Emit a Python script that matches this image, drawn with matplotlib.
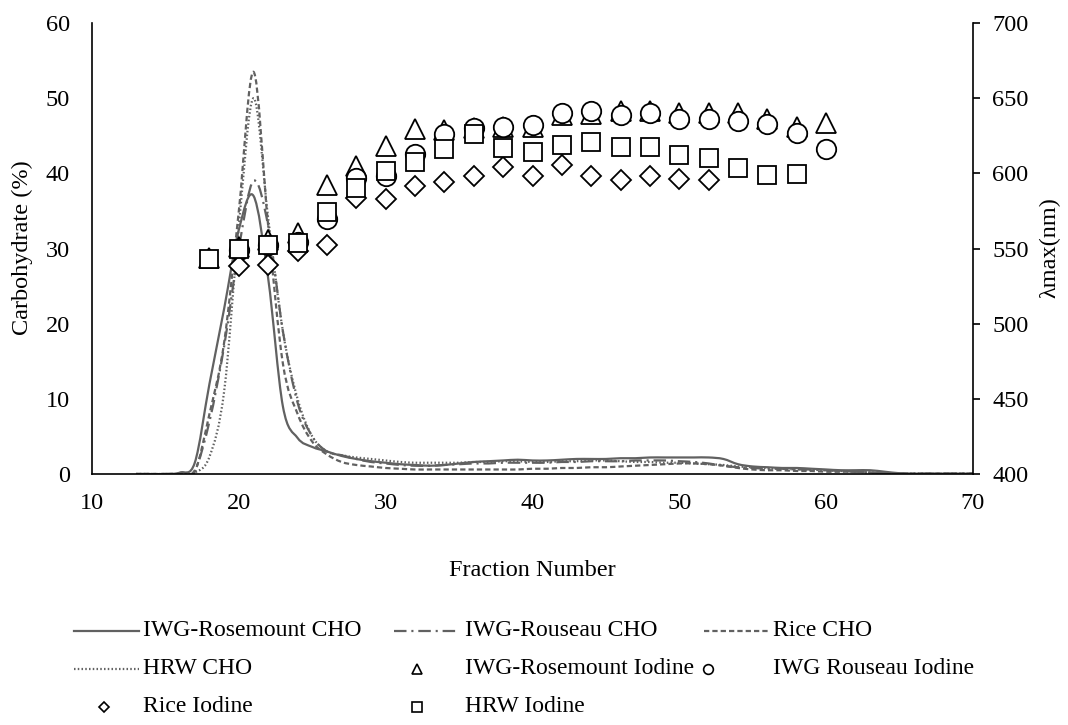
import numpy as np
import matplotlib
matplotlib.use("Agg")
import matplotlib.pyplot as plt
from matplotlib.path import Path
from matplotlib.patches import PathPatch
from matplotlib.lines import Line2D

plt.rcParams['font.family'] = ['Liberation Serif', 'DejaVu Serif']
plt.rcParams['lines.scale_dashes'] = False

# ---- carbohydrate elution profiles (fractions 13..70) ----
fraction = np.arange(13, 71)

cho_rosemount = [0, 0, 0, 0.2, 1.5, 12, 22, 32.5, 37, 26, 9, 4.8, 3.6, 3.0, 2.4, 2.0,
                 1.7, 1.5, 1.3, 1.2, 1.1, 1.2, 1.4, 1.6, 1.7, 1.8, 1.9, 1.8, 1.8, 1.9,
                 2.0, 2.0, 2.0, 2.1, 2.1, 2.2, 2.2, 2.2, 2.2, 2.2, 2.0, 1.3, 1.0, 0.9,
                 0.8, 0.8, 0.7, 0.6, 0.5, 0.5, 0.5, 0.3, 0.1, 0.05, 0.05, 0.05, 0.05, 0.05]
cho_rouseau = [0, 0, 0, 0.1, 0.5, 7, 17, 30, 39, 33, 19, 9.5, 5, 3.0, 2.5, 2.0,
               1.6, 1.4, 1.2, 1.1, 1.1, 1.2, 1.3, 1.4, 1.4, 1.5, 1.5, 1.5, 1.5, 1.6,
               1.6, 1.7, 1.7, 1.7, 1.8, 1.8, 1.8, 1.7, 1.6, 1.4, 1.1, 0.9, 0.8, 0.7,
               0.7, 0.6, 0.6, 0.5, 0.4, 0.3, 0.2, 0.1, 0.05, 0.05, 0.05, 0.05, 0.05, 0.05]
cho_rice = [0, 0, 0, 0, 0.3, 8, 17.5, 35, 53.5, 33, 14.7, 8, 4.3, 2.6, 1.6, 1.2,
            1.0, 0.8, 0.7, 0.6, 0.6, 0.6, 0.6, 0.6, 0.6, 0.6, 0.6, 0.7, 0.7, 0.8,
            0.8, 0.9, 0.9, 1.0, 1.1, 1.2, 1.3, 1.4, 1.4, 1.3, 1.1, 0.8, 0.6, 0.5,
            0.5, 0.4, 0.4, 0.3, 0.3, 0.3, 0.2, 0.1, 0.05, 0.05, 0.05, 0.05, 0.05, 0.05]
cho_hrw = [0, 0, 0, 0, 0.2, 2.3, 11, 33, 50, 34, 19, 10, 5, 3.0, 2.5, 2.2,
           2.0, 1.8, 1.6, 1.5, 1.5, 1.5, 1.5, 1.6, 1.6, 1.7, 1.7, 1.6, 1.6, 1.7,
           1.7, 1.8, 1.8, 1.7, 1.6, 1.6, 1.5, 1.5, 1.4, 1.3, 1.2, 1.0, 0.9, 0.8,
           0.7, 0.6, 0.6, 0.5, 0.4, 0.3, 0.2, 0.1, 0.05, 0.05, 0.05, 0.05, 0.05, 0.05]

# ---- iodine binding lambda max (nm) ----
iod_fraction = np.arange(18, 62, 2)
iod_rosemount = [544, 551, 555.5, 560, 592, 605, 618.5, 629.3, 629, 630.4, 630.7,
                 630.7, 638.6, 639.5, 641.3, 641.5, 640.2, 640.4, 640.2, 636, 630.9, 633.2]
iod_rouseau_frac = np.arange(20, 62, 2)
iod_rouseau = [549, 552, 554, 569.5, 597.2, 598.3, 612.9, 626, 630, 630.6,
               632, 640.4, 641.5, 639.1, 640.2, 636.4, 636.4, 635.1, 632.5, 627.1, 616.1]
iod_rice_frac = np.arange(20, 54, 2)
iod_rice = [538.4, 539, 548.6, 552.6, 583.4, 583.2, 591.6, 594.3, 598.5, 604.1,
            598.5, 605.4, 598.1, 595.8, 598.5, 596.5, 595.8]
iod_hrw_frac = np.arange(18, 60, 2)
iod_hrw = [543, 549.5, 552.4, 553.9, 574, 590.5, 601.4, 607.4, 616.4, 626.4,
           616.6, 614.2, 619.1, 620.6, 617.3, 617.3, 612.5, 610.2, 603.8, 599, 599.4]

line_color = '#616161'
W, H = 1068, 725
fig = plt.figure(figsize=(W / 100, H / 100), dpi=100)
ax = fig.add_axes([92 / W, 1 - 474 / H, (973 - 92) / W, (474 - 23) / H])
ax2 = ax.twinx()


def smooth_path(x, y):
    """Catmull-Rom style cubic Bezier path through the points."""
    pts = np.column_stack([x, y]).astype(float)
    n = len(pts)
    verts = [pts[0]]
    codes = [Path.MOVETO]
    for i in range(n - 1):
        p0 = pts[max(i - 1, 0)]
        p1 = pts[i]
        p2 = pts[i + 1]
        p3 = pts[min(i + 2, n - 1)]
        verts += [p1 + (p2 - p0) / 6.0, p2 - (p3 - p1) / 6.0, p2]
        codes += [Path.CURVE4] * 3
    return Path(verts, codes)


styles = {
    'rosemount': '-',
    'rouseau': (0, (9, 3.5, 1.5, 3.5)),
    'rice': (0, (3.8, 2.2)),
    'hrw': (0, (1.1, 1.6)),
}
series = [(cho_rosemount, styles['rosemount']),
          (cho_rouseau, styles['rouseau']),
          (cho_rice, styles['rice']),
          (cho_hrw, styles['hrw'])]
for vals, ls in series:
    patch = PathPatch(smooth_path(fraction, vals), fill=False, edgecolor=line_color,
                      lw=1.6, linestyle=ls, capstyle='butt')
    ax.add_patch(patch)

ax.set_xlim(10, 70)
ax.set_ylim(0, 60)
ax.set_xticks(range(10, 71, 10))
ax.set_yticks(range(0, 61, 10))

mk = dict(linestyle='none', markerfacecolor='white', markeredgecolor='black',
          markeredgewidth=1.3, clip_on=False)
ax2.plot(iod_fraction, iod_rosemount, marker='^', markersize=14, **mk)
ax2.plot(iod_rouseau_frac, iod_rouseau, marker='o', markersize=14, **mk)
ax2.plot(iod_rice_frac, iod_rice, marker='D', markersize=10, **mk)
ax2.plot(iod_hrw_frac, iod_hrw, marker='s', markersize=13.5, **mk)
ax2.set_ylim(400, 700)
ax2.set_yticks(range(400, 701, 50))

fs = 17.5
fs_leg = 17
for a in (ax, ax2):
    a.spines['top'].set_visible(False)
    for s in a.spines.values():
        s.set_linewidth(1.2)
        s.set_color('black')
ax2.spines['left'].set_visible(False)
ax2.spines['bottom'].set_visible(False)
ax.spines['right'].set_visible(False)

ax.tick_params(axis='x', length=0, pad=14, labelsize=fs)
ax.tick_params(axis='y', length=0, pad=16, labelsize=fs)
ax2.tick_params(axis='y', length=5, width=1.2, direction='out', pad=9, labelsize=fs)

fig.text(22 / W, 1 - 248 / H, 'Carbohydrate (%)', rotation=90, ha='center', va='center', fontsize=fs)
fig.text(1050 / W, 1 - 248 / H, 'λmax(nm)', rotation=90, ha='center', va='center', fontsize=fs)
fig.text(532 / W, 1 - 570 / H, 'Fraction Number', ha='center', va='center', fontsize=fs)


# legend laid out in three rows beneath the plot
def fx(px):
    return px / W


def fy(py):
    return 1 - py / H


rows = [631, 669, 707]
legend_lines = [
    (74, 139, rows[0], styles['rosemount'], 'IWG-Rosemount CHO', 143),
    (394, 459, rows[0], styles['rouseau'], 'IWG-Rouseau CHO', 465),
    (704, 768, rows[0], styles['rice'], 'Rice CHO', 773),
    (74, 139, rows[1], styles['hrw'], 'HRW CHO', 143),
]
for x0, x1, yy, ls, label, tx in legend_lines:
    fig.add_artist(Line2D([fx(x0), fx(x1)], [fy(yy), fy(yy)], transform=fig.transFigure,
                          color=line_color, lw=1.6, linestyle=ls))
    fig.text(fx(tx), fy(yy), label, ha='left', va='center', fontsize=fs_leg)

legend_marks = [
    (417, rows[1], '^', 7, 'IWG-Rosemount Iodine', 465),
    (708, rows[1], 'o', 7, 'IWG Rouseau Iodine', 773),
    (104, rows[2], 'D', 5, 'Rice Iodine', 143),
    (417, rows[2], 's', 7, 'HRW Iodine', 465),
]
for xm, yy, m, ms, label, tx in legend_marks:
    fig.add_artist(Line2D([fx(xm)], [fy(yy)], transform=fig.transFigure, marker=m,
                          markersize=ms, markerfacecolor='white', markeredgecolor='black',
                          markeredgewidth=1.2, linestyle='none'))
    fig.text(fx(tx), fy(yy), label, ha='left', va='center', fontsize=fs_leg)

fig.savefig('out.png', dpi=100)
